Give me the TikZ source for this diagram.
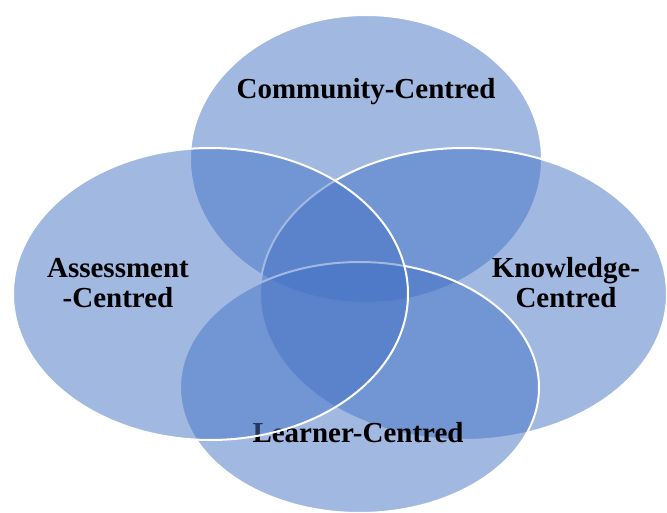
\documentclass[tikz,border=0pt]{standalone}
\usepackage{fontspec}
\setmainfont{Liberation Serif}
\definecolor{accent}{HTML}{4472C4}
\tikzset{
  venn/.style={fill=accent, fill opacity=0.5, draw=white, draw opacity=1, line width=2pt},
  lbl/.style={font=\bfseries\fontsize{29}{30}\selectfont, text=black, align=center, inner sep=0pt, anchor=base}
}
\begin{document}
\begin{tikzpicture}[x=1pt,y=-1pt]
\useasboundingbox (0,0) rectangle (667,513);
% Community
\path[venn] (366,159) ellipse [x radius=176, y radius=144];
\node[lbl] (community) at (366,99) {Community-Centred};
% Knowledge
\path[venn] (463.5,294) ellipse [x radius=203.5, y radius=146];
\node[lbl] (knowledge) at (566,308) {Knowledge-\\Centred};
% Learner
\path[venn] (359.5,387.5) ellipse [x radius=179.5, y radius=125.5];
\node[lbl] (learner) at (358,442) {Learner-Centred};
% Assessment
\path[venn] (210.5,294) ellipse [x radius=197.5, y radius=146];
\node[lbl] (assessment) at (118,308) {Assessment\\-Centred};
\end{tikzpicture}
\end{document}
